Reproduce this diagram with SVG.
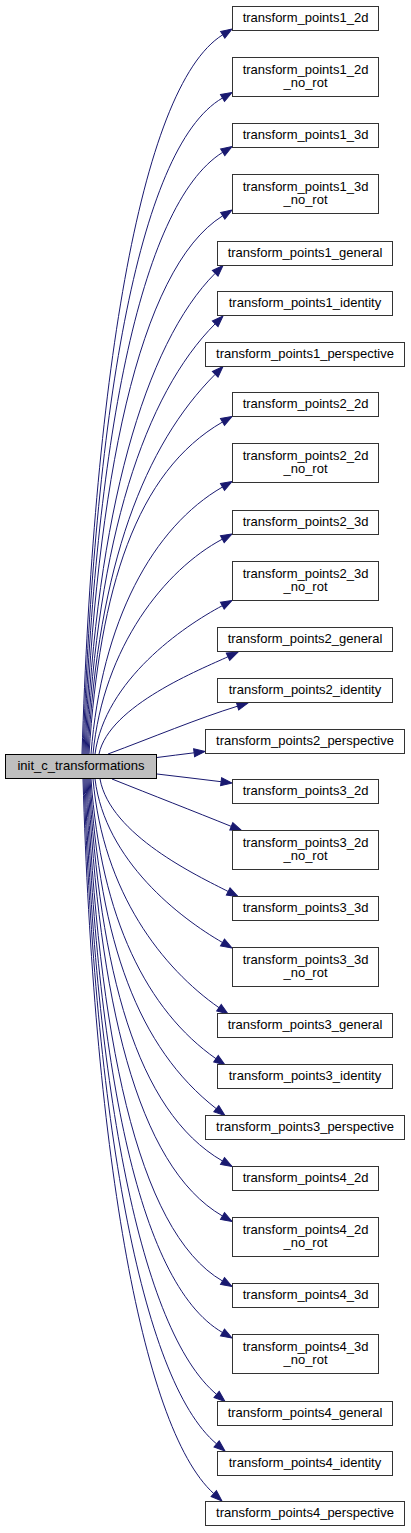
<svg xmlns="http://www.w3.org/2000/svg" width="411" height="1533" viewBox="0 0 411 1533">
<style>
.n rect{fill:#fff;stroke:#333;stroke-width:1}
.root rect{fill:#bfbfbf;stroke:#000;stroke-width:1}
text{font-family:"Liberation Sans",Arial,sans-serif;font-size:13px;fill:#000;text-anchor:middle}
#edges path{fill:none;stroke:#191970;stroke-width:1;marker-end:url(#ah)}
</style>
<defs>
<marker id="ah" markerUnits="userSpaceOnUse" markerWidth="14" markerHeight="10" refX="0" refY="5" orient="auto" overflow="visible">
<path d="M0,1 L11,5 L0,9 z" fill="#191970" stroke="#191970" stroke-width="1"/>
</marker>
</defs>
<rect width="411" height="1533" fill="#fff"/>
<g id="edges">
<path d="M82,754 C93.3,394.4 137.9,87.8 222.7,34.8"/>
<path d="M83,754 C94.2,426 135.9,148 222.5,98"/>
<path d="M84,754 C95.1,453 137.9,205.3 222.7,152.3"/>
<path d="M85,754 C96,485 137.9,268.8 222.7,215.8"/>
<path d="M86,754 C96.3,513.7 144.5,344 215.2,273.3"/>
<path d="M87,754 C97.3,539 144.5,394.5 215.2,323.8"/>
<path d="M88,754 C98.2,564 144.5,445 215.2,374.3"/>
<path d="M89,754 C99.7,588 136.2,471.8 222.5,422"/>
<path d="M91,754 C101.5,620.5 153.2,527 222.5,487"/>
<path d="M93,754 C103.3,646.6 165.3,569.4 222.3,539.2"/>
<path d="M95,754 C105.2,679.9 183,626.6 222.3,605.7"/>
<path d="M99,754 C109.3,705.4 201.7,669 228,656.7"/>
<path d="M108,754 C151,738 199.3,717.9 237.5,706.2"/>
<path d="M157,757.5 C169,756 181.6,754.3 194.1,752.8"/>
<path d="M157,774 C178,776.5 200,779.1 221.1,781.7"/>
<path d="M112,779 C152,795 194.2,811.4 231.3,826.4"/>
<path d="M100,779 C110.2,835 197.9,876 228.2,891.5"/>
<path d="M95,779 C105.2,860.8 180,918 222.5,942.5"/>
<path d="M93,779 C103.1,893.4 162.8,968.3 219,1007.7"/>
<path d="M91,779 C101,919 147.2,1010.5 216,1058.7"/>
<path d="M90,779 C100.1,943.9 138.3,1047.7 216.3,1108.7"/>
<path d="M89,779 C99.7,970 135.9,1111 222.5,1161"/>
<path d="M88,779 C98.8,997.5 135.9,1166 222.5,1216"/>
<path d="M87,779 C97.8,1030 135.9,1231 222.5,1281"/>
<path d="M86,779 C96.9,1055.8 135.9,1282.5 222.5,1332.5"/>
<path d="M85,779 C95.5,1086.7 140,1330.1 216.6,1394.4"/>
<path d="M84,779 C94.6,1111.5 140,1379.6 216.6,1443.9"/>
<path d="M83,779 C93.5,1136.3 139.5,1426.7 213.8,1493.6"/>
</g>
<g id="init_c_transformations" class="root"><rect x="5.5" y="754.5" width="151" height="24"/><text x="81" y="770">init_c_transformations</text></g>
<g id="transform_points1_2d" class="n"><rect x="232.5" y="6.5" width="146" height="24"/><text x="305.5" y="22">transform_points1_2d</text></g>
<g id="transform_points1_2d_no_rot" class="n"><rect x="232.5" y="57.5" width="146" height="39"/><text x="305.5" y="74">transform_points1_2d</text><text x="305.5" y="87">_no_rot</text></g>
<g id="transform_points1_3d" class="n"><rect x="232.5" y="123.5" width="146" height="24"/><text x="305.5" y="139">transform_points1_3d</text></g>
<g id="transform_points1_3d_no_rot" class="n"><rect x="232.5" y="174.5" width="146" height="39"/><text x="305.5" y="191">transform_points1_3d</text><text x="305.5" y="204">_no_rot</text></g>
<g id="transform_points1_general" class="n"><rect x="217.5" y="241.5" width="175" height="24"/><text x="305" y="257">transform_points1_general</text></g>
<g id="transform_points1_identity" class="n"><rect x="217.5" y="291.5" width="175" height="24"/><text x="305" y="307">transform_points1_identity</text></g>
<g id="transform_points1_perspective" class="n"><rect x="205.5" y="342.5" width="199" height="24"/><text x="305" y="358">transform_points1_perspective</text></g>
<g id="transform_points2_2d" class="n"><rect x="232.5" y="392.5" width="146" height="24"/><text x="305.5" y="408">transform_points2_2d</text></g>
<g id="transform_points2_2d_no_rot" class="n"><rect x="232.5" y="443.5" width="146" height="39"/><text x="305.5" y="460">transform_points2_2d</text><text x="305.5" y="473">_no_rot</text></g>
<g id="transform_points2_3d" class="n"><rect x="232.5" y="510.5" width="146" height="24"/><text x="305.5" y="526">transform_points2_3d</text></g>
<g id="transform_points2_3d_no_rot" class="n"><rect x="232.5" y="561.5" width="146" height="39"/><text x="305.5" y="578">transform_points2_3d</text><text x="305.5" y="591">_no_rot</text></g>
<g id="transform_points2_general" class="n"><rect x="217.5" y="627.5" width="175" height="24"/><text x="305" y="643">transform_points2_general</text></g>
<g id="transform_points2_identity" class="n"><rect x="217.5" y="678.5" width="175" height="24"/><text x="305" y="694">transform_points2_identity</text></g>
<g id="transform_points2_perspective" class="n"><rect x="205.5" y="729.5" width="199" height="24"/><text x="305" y="745">transform_points2_perspective</text></g>
<g id="transform_points3_2d" class="n"><rect x="232.5" y="779.5" width="146" height="24"/><text x="305.5" y="795">transform_points3_2d</text></g>
<g id="transform_points3_2d_no_rot" class="n"><rect x="232.5" y="830.5" width="146" height="39"/><text x="305.5" y="847">transform_points3_2d</text><text x="305.5" y="860">_no_rot</text></g>
<g id="transform_points3_3d" class="n"><rect x="232.5" y="896.5" width="146" height="24"/><text x="305.5" y="912">transform_points3_3d</text></g>
<g id="transform_points3_3d_no_rot" class="n"><rect x="232.5" y="947.5" width="146" height="39"/><text x="305.5" y="964">transform_points3_3d</text><text x="305.5" y="977">_no_rot</text></g>
<g id="transform_points3_general" class="n"><rect x="217.5" y="1013.5" width="175" height="24"/><text x="305" y="1029">transform_points3_general</text></g>
<g id="transform_points3_identity" class="n"><rect x="217.5" y="1064.5" width="175" height="24"/><text x="305" y="1080">transform_points3_identity</text></g>
<g id="transform_points3_perspective" class="n"><rect x="205.5" y="1115.5" width="199" height="24"/><text x="305" y="1131">transform_points3_perspective</text></g>
<g id="transform_points4_2d" class="n"><rect x="232.5" y="1166.5" width="146" height="24"/><text x="305.5" y="1182">transform_points4_2d</text></g>
<g id="transform_points4_2d_no_rot" class="n"><rect x="232.5" y="1217.5" width="146" height="39"/><text x="305.5" y="1234">transform_points4_2d</text><text x="305.5" y="1247">_no_rot</text></g>
<g id="transform_points4_3d" class="n"><rect x="232.5" y="1283.5" width="146" height="24"/><text x="305.5" y="1299">transform_points4_3d</text></g>
<g id="transform_points4_3d_no_rot" class="n"><rect x="232.5" y="1334.5" width="146" height="39"/><text x="305.5" y="1351">transform_points4_3d</text><text x="305.5" y="1364">_no_rot</text></g>
<g id="transform_points4_general" class="n"><rect x="217.5" y="1401.5" width="175" height="24"/><text x="305" y="1417">transform_points4_general</text></g>
<g id="transform_points4_identity" class="n"><rect x="217.5" y="1451.5" width="175" height="24"/><text x="305" y="1467">transform_points4_identity</text></g>
<g id="transform_points4_perspective" class="n"><rect x="205.5" y="1501.5" width="199" height="24"/><text x="305" y="1517">transform_points4_perspective</text></g>
</svg>
